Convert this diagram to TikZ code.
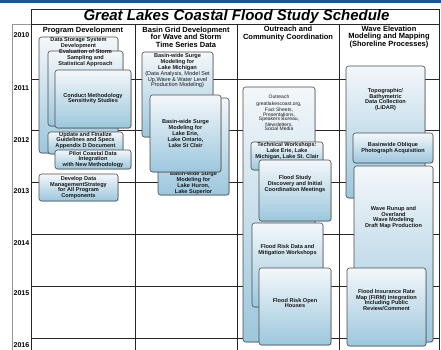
\documentclass[tikz,border=0pt]{standalone}
\usepackage{fontspec}
\setmainfont{Liberation Sans}
\usetikzlibrary{fit,shadows}

\definecolor{barblue}{RGB}{22,88,148}
\definecolor{boxtop}{RGB}{243,247,250}
\definecolor{boxbot}{RGB}{156,199,221}
\definecolor{gridgray}{RGB}{150,150,150}

% one schedule bar: [text options] name, left, top, right, bottom, text y, text
\newcommand{\taskbox}[8][]{%
  \node[task,fit={(#3,#4) (#5,#6)}] (#2) {};
  \node[tasktext,#1] (#2-text) at ({(#3+#5)/2},#7) {#8};
}

\begin{document}
\begin{tikzpicture}[x=1pt,y=-1pt,
  task/.style={draw=black!70,line width=.6pt,rounded corners=2.5pt,top color=boxtop,bottom color=boxbot,inner sep=0pt,drop shadow={shadow xshift=.7pt,shadow yshift=-.7pt,opacity=.35,fill=black!60}},
  tasktext/.style={font=\fontsize{5.6}{5.8}\selectfont\bfseries,align=center,inner sep=0pt,text=black!90},
  head/.style={font=\fontsize{7.5}{7.6}\selectfont\bfseries,align=center,inner sep=0pt},
  year/.style={font=\fontsize{7}{7}\selectfont\bfseries,inner sep=0pt},
  rule/.style={line width=.8pt,black!85}]
\useasboundingbox (0,0) rectangle (441,350);
\fill[barblue] (0,0) rectangle (441,3.5);

% table frame
\draw[gridgray,line width=.8pt] (12,350) |- (31,24);
\draw[rule] (31,350) |- (439,9) -- (439,350);
\draw[rule] (31,24) -- (439,24);
\foreach \x in {135,237,339} \draw[rule] (\x,24) -- (\x,350);
\foreach \y in {79,130,182,234,286,338} \draw[rule] (31,\y) -- (439,\y);

\node[font=\fontsize{15}{15}\selectfont\bfseries\itshape] (title) at (236.5,16.5) {Great Lakes Coastal Flood Study Schedule};
\node[head] (progdev) at (83,30.5) {Program Development};
\node[head] (basin) at (186,37) {Basin Grid Development\\for Wave and Storm\\Time Series Data};
\node[head] (outreach) at (288,33.5) {Outreach and\\Community Coordination};
\node[head] (wave) at (389,37) {Wave Elevation\\Modeling and Mapping\\(Shoreline Processes)};
\foreach \yr/\y in {2010/35,2011/88,2012/140,2013/191.5,2014/243,2015/293,2016/345}
  \node[year] (y\yr) at (21.5,\y) {\yr};

% program development
\taskbox{datastore}{39}{37}{118}{153}{43.5}{Data Storage System\\Development}
\taskbox{evalstorm}{48}{51}{123}{126}{58}{Evaluation of Storm\\Sampling and\\Statistical Approach}
\taskbox{method}{55}{70}{131}{128}{98.5}{Conduct Methodology\\Sensitivity Studies}
\taskbox{guide}{48}{132}{123}{154}{140.5}{Update and Finalize\\Guidelines and Specs\\Appendix D Document}
\taskbox{pilot}{55}{150}{131}{169}{159.5}{Pilot Coastal Data\\Integration\\with New Methodology}
\taskbox{datamgmt}{39}{174}{118}{201}{187.5}{Develop Data\\ManagementStrategy\\for All Program\\Components}

% basin grid
\taskbox{michigan}{142}{52}{213}{137}{71}{Basin-wide Surge\\Modeling for\\Lake Michigan\\\mdseries (Data Analysis, Model Set\\\mdseries Up,Wave \& Water Level\\\mdseries Production Modeling)}
\taskbox{huron}{158}{98}{229}{195}{183}{Basin-wide Surge\\Modeling for\\Lake Huron,\\Lake Superior}
\taskbox{erie}{150}{95}{221}{172}{133.5}{Basin-wide Surge\\Modeling for\\Lake Erie,\\Lake Ontario,\\Lake St Clair}

% outreach
\taskbox[font=\fontsize{5}{4.6}\selectfont]{outr}{243}{87}{315}{342}{113}{Outreach\\[2.5pt]greatlakescoast.org,\\Fact Sheets,\\Presentations,\\Speakers Bureau,\\Newsletters,\\Social Media}
\taskbox{techws}{251}{142}{323}{170}{151}{Technical Workshops:\\Lake Erie, Lake\\Michigan, Lake St. Clair}
\taskbox{discovery}{259}{160}{331}{221}{184}{Flood Study\\Discovery and Initial\\Coordination Meetings}
\taskbox{mitig}{252}{223}{323}{307}{250}{Flood Risk Data and\\Mitigation Workshops}
\taskbox{openhouse}{259}{268}{331}{345}{303}{Flood Risk Open\\Houses}

% wave elevation
\taskbox{lidar}{346}{66}{425}{198}{99.5}{Topographic/\\Bathymetric\\Data Collection\\(LiDAR)}
\taskbox{oblique}{353}{133}{433}{163}{148}{Basinwide Oblique\\Photograph Acquisition}
\taskbox{runup}{354}{166}{433}{342}{217.5}{Wave Runup and\\Overland\\Wave Modeling\\Draft Map Production}
\taskbox{firm}{347}{268}{426}{346}{300}{Flood Insurance Rate\\Map (FIRM) Integration\\Including Public\\Review/Comment}
\end{tikzpicture}
\end{document}
